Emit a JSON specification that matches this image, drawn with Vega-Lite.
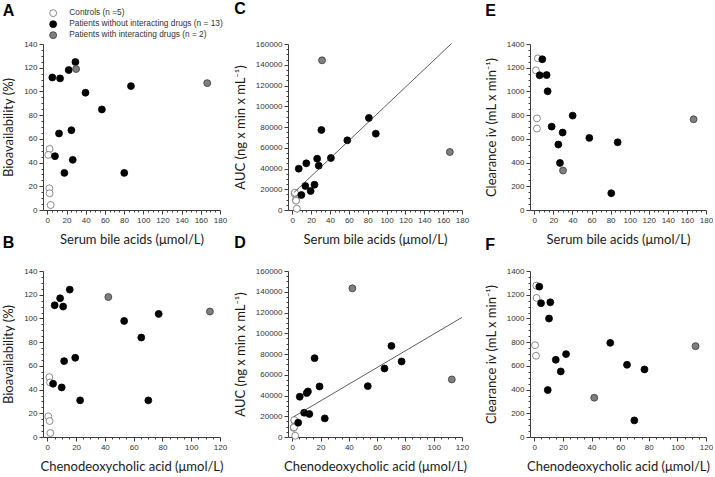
{
  "$schema": "https://vega.github.io/schema/vega-lite/v6.json",
  "padding": {"left": 2, "top": 0, "right": 0, "bottom": 0},
  "datasets": {
    "pts": [
      {"panel": "A", "x": 2.4, "y": 51.5, "g": "c"},
      {"panel": "A", "x": 1.0, "y": 46.5, "g": "c"},
      {"panel": "A", "x": 2.1, "y": 18.3, "g": "c"},
      {"panel": "A", "x": 2.4, "y": 14.1, "g": "c"},
      {"panel": "A", "x": 3.5, "y": 4.2, "g": "c"},
      {"panel": "A", "x": 5.2, "y": 111.8, "g": "p"},
      {"panel": "A", "x": 13.3, "y": 111, "g": "p"},
      {"panel": "A", "x": 22.3, "y": 118, "g": "p"},
      {"panel": "A", "x": 29.3, "y": 124.8, "g": "p"},
      {"panel": "A", "x": 39.8, "y": 98.9, "g": "p"},
      {"panel": "A", "x": 56.9, "y": 84.8, "g": "p"},
      {"panel": "A", "x": 87.2, "y": 104.5, "g": "p"},
      {"panel": "A", "x": 12.2, "y": 64.5, "g": "p"},
      {"panel": "A", "x": 25.1, "y": 67.3, "g": "p"},
      {"panel": "A", "x": 8.0, "y": 45.4, "g": "p"},
      {"panel": "A", "x": 26.5, "y": 42.3, "g": "p"},
      {"panel": "A", "x": 17.8, "y": 31.3, "g": "p"},
      {"panel": "A", "x": 80.2, "y": 31.3, "g": "p"},
      {"panel": "A", "x": 30, "y": 118.9, "g": "i"},
      {"panel": "A", "x": 166.7, "y": 107, "g": "i"},

      {"panel": "B", "x": 1.4, "y": 50.5, "g": "c"},
      {"panel": "B", "x": 1.9, "y": 46, "g": "c"},
      {"panel": "B", "x": 0.7, "y": 17.4, "g": "c"},
      {"panel": "B", "x": 1.6, "y": 13.5, "g": "c"},
      {"panel": "B", "x": 2.1, "y": 3.4, "g": "c"},
      {"panel": "B", "x": 15.6, "y": 124.3, "g": "p"},
      {"panel": "B", "x": 8.9, "y": 117, "g": "p"},
      {"panel": "B", "x": 5.1, "y": 111.1, "g": "p"},
      {"panel": "B", "x": 11, "y": 110, "g": "p"},
      {"panel": "B", "x": 53.4, "y": 97.9, "g": "p"},
      {"panel": "B", "x": 65.3, "y": 83.9, "g": "p"},
      {"panel": "B", "x": 77.4, "y": 103.8, "g": "p"},
      {"panel": "B", "x": 11.7, "y": 64, "g": "p"},
      {"panel": "B", "x": 19.4, "y": 66.8, "g": "p"},
      {"panel": "B", "x": 4, "y": 44.9, "g": "p"},
      {"panel": "B", "x": 10, "y": 41.8, "g": "p"},
      {"panel": "B", "x": 22.8, "y": 30.9, "g": "p"},
      {"panel": "B", "x": 70.2, "y": 30.9, "g": "p"},
      {"panel": "B", "x": 42.4, "y": 118, "g": "i"},
      {"panel": "B", "x": 113, "y": 105.8, "g": "i"},

      {"panel": "C", "x": 2.5, "y": 15800, "g": "c"},
      {"panel": "C", "x": 2.8, "y": 16700, "g": "c"},
      {"panel": "C", "x": 3.8, "y": 9640, "g": "c"},
      {"panel": "C", "x": 4.0, "y": 9000, "g": "c"},
      {"panel": "C", "x": 4.9, "y": 1300, "g": "c"},
      {"panel": "C", "x": 6.9, "y": 39840, "g": "p"},
      {"panel": "C", "x": 14.9, "y": 44980, "g": "p"},
      {"panel": "C", "x": 13.9, "y": 23130, "g": "p"},
      {"panel": "C", "x": 9.7, "y": 14460, "g": "p"},
      {"panel": "C", "x": 19.5, "y": 18310, "g": "p"},
      {"panel": "C", "x": 23.6, "y": 24420, "g": "p"},
      {"panel": "C", "x": 26.4, "y": 49480, "g": "p"},
      {"panel": "C", "x": 28.1, "y": 42730, "g": "p"},
      {"panel": "C", "x": 30.9, "y": 77110, "g": "p"},
      {"panel": "C", "x": 41, "y": 50120, "g": "p"},
      {"panel": "C", "x": 58.4, "y": 67150, "g": "p"},
      {"panel": "C", "x": 81.3, "y": 88680, "g": "p"},
      {"panel": "C", "x": 88.6, "y": 73580, "g": "p"},
      {"panel": "C", "x": 31.6, "y": 144260, "g": "i"},
      {"panel": "C", "x": 167.1, "y": 55900, "g": "i"},

      {"panel": "D", "x": 1.6, "y": 15500, "g": "c"},
      {"panel": "D", "x": 1.4, "y": 16350, "g": "c"},
      {"panel": "D", "x": 1.0, "y": 8800, "g": "c"},
      {"panel": "D", "x": 1.2, "y": 9300, "g": "c"},
      {"panel": "D", "x": 2.1, "y": 1200, "g": "c"},
      {"panel": "D", "x": 4.2, "y": 13800, "g": "p"},
      {"panel": "D", "x": 5.3, "y": 38800, "g": "p"},
      {"panel": "D", "x": 10.2, "y": 42300, "g": "p"},
      {"panel": "D", "x": 11.1, "y": 43900, "g": "p"},
      {"panel": "D", "x": 8.4, "y": 23400, "g": "p"},
      {"panel": "D", "x": 12.1, "y": 22100, "g": "p"},
      {"panel": "D", "x": 15.8, "y": 76000, "g": "p"},
      {"panel": "D", "x": 19.3, "y": 48700, "g": "p"},
      {"panel": "D", "x": 23, "y": 17950, "g": "p"},
      {"panel": "D", "x": 53.4, "y": 49050, "g": "p"},
      {"panel": "D", "x": 65.2, "y": 66000, "g": "p"},
      {"panel": "D", "x": 70.1, "y": 87800, "g": "p"},
      {"panel": "D", "x": 77.3, "y": 72800, "g": "p"},
      {"panel": "D", "x": 42.5, "y": 143300, "g": "i"},
      {"panel": "D", "x": 112.8, "y": 55450, "g": "i"},

      {"panel": "E", "x": 3.8, "y": 1279, "g": "c"},
      {"panel": "E", "x": 1.7, "y": 1178, "g": "c"},
      {"panel": "E", "x": 2.8, "y": 773, "g": "c"},
      {"panel": "E", "x": 2.8, "y": 687, "g": "c"},
      {"panel": "E", "x": 8.4, "y": 1271, "g": "p"},
      {"panel": "E", "x": 5.6, "y": 1136, "g": "p"},
      {"panel": "E", "x": 12.9, "y": 1138, "g": "p"},
      {"panel": "E", "x": 14, "y": 1001, "g": "p"},
      {"panel": "E", "x": 18.2, "y": 703, "g": "p"},
      {"panel": "E", "x": 40.2, "y": 796, "g": "p"},
      {"panel": "E", "x": 29.7, "y": 653, "g": "p"},
      {"panel": "E", "x": 25.2, "y": 552, "g": "p"},
      {"panel": "E", "x": 26.9, "y": 397, "g": "p"},
      {"panel": "E", "x": 57.7, "y": 608, "g": "p"},
      {"panel": "E", "x": 87.4, "y": 571, "g": "p"},
      {"panel": "E", "x": 80.7, "y": 142, "g": "p"},
      {"panel": "E", "x": 30.1, "y": 333, "g": "i"},
      {"panel": "E", "x": 167, "y": 765, "g": "i"},

      {"panel": "F", "x": 1.4, "y": 1277, "g": "c"},
      {"panel": "F", "x": 1.6, "y": 1173, "g": "c"},
      {"panel": "F", "x": 0.5, "y": 774, "g": "c"},
      {"panel": "F", "x": 1.2, "y": 685, "g": "c"},
      {"panel": "F", "x": 3.5, "y": 1268, "g": "p"},
      {"panel": "F", "x": 4.7, "y": 1128, "g": "p"},
      {"panel": "F", "x": 11.2, "y": 1136, "g": "p"},
      {"panel": "F", "x": 10.3, "y": 999, "g": "p"},
      {"panel": "F", "x": 22.2, "y": 699, "g": "p"},
      {"panel": "F", "x": 15, "y": 651, "g": "p"},
      {"panel": "F", "x": 18.5, "y": 553, "g": "p"},
      {"panel": "F", "x": 9.4, "y": 396, "g": "p"},
      {"panel": "F", "x": 53.1, "y": 794, "g": "p"},
      {"panel": "F", "x": 64.8, "y": 609, "g": "p"},
      {"panel": "F", "x": 77, "y": 570, "g": "p"},
      {"panel": "F", "x": 69.9, "y": 140, "g": "p"},
      {"panel": "F", "x": 41.9, "y": 331, "g": "i"},
      {"panel": "F", "x": 112.7, "y": 766, "g": "i"}
    ]
  },
  "data": {"name": "pts"},
  "bounds": "flush",
  "columns": 3,
  "spacing": {"row": 61, "column": 68},
  "resolve": {
    "scale": {"fill": "independent", "stroke": "independent", "x": "independent", "y": "independent"},
    "legend": {"fill": "independent", "stroke": "independent"}
  },
  "concat": [
    {
      "width": 177, "height": 166,
      "title": {"text": "A", "dy": 13.5, "offset": 4},
      "transform": [{"filter": "datum.panel === 'A'"}],
      "layer": [
        {
          "mark": {"type": "point", "filled": true, "size": 48, "strokeWidth": 0.8, "opacity": 1},
          "encoding": {
            "x": {"field": "x", "type": "quantitative", "scale": {"domain": [-4.5, 180], "nice": false, "zero": false},
                  "axis": {"orient": "bottom", "values": [0, 20, 40, 60, 80, 100, 120, 140, 160, 180], "title": "Serum bile acids (μmol/L)"}},
            "y": {"field": "y", "type": "quantitative", "scale": {"domain": [0, 140], "nice": false},
                  "axis": {"orient": "left", "values": [0, 20, 40, 60, 80, 100, 120, 140], "title": "Bioavailability (%)"}},
            "fill": {"field": "g", "type": "nominal", "scale": {"domain": ["c", "p", "i"], "range": ["#ffffff", "#000000", "#7f7f7f"]},
                     "legend": {"orient": "none", "legendX": 6, "legendY": -35, "title": null, "padding": 0, "labelFont": "Liberation Sans", "labelFontSize": 8.3, "labelColor": "#333333", "symbolSize": 48, "symbolStrokeWidth": 0.8, "rowPadding": 0, "labelOffset": 12,
                                "labelExpr": "datum.value === 'c' ? 'Controls (n =5)' : datum.value === 'p' ? 'Patients without interacting drugs (n = 13)' : 'Patients with interacting drugs (n = 2)'"}},
            "stroke": {"field": "g", "type": "nominal", "scale": {"domain": ["c", "p", "i"], "range": ["#6e6e6e", "#000000", "#3a3a3a"]},
                     "legend": {"orient": "none", "legendX": 6, "legendY": -35, "title": null, "padding": 0, "labelFont": "Liberation Sans", "labelFontSize": 8.3, "labelColor": "#333333", "symbolSize": 48, "symbolStrokeWidth": 0.8, "rowPadding": 0, "labelOffset": 12,
                                "labelExpr": "datum.value === 'c' ? 'Controls (n =5)' : datum.value === 'p' ? 'Patients without interacting drugs (n = 13)' : 'Patients with interacting drugs (n = 2)'"}}
          }
        },
        {
          "mark": {"type": "point", "opacity": 0},
          "encoding": {
            "x": {"field": "x", "type": "quantitative", "axis": {"orient": "bottom", "values": [5,10,15,25,30,35,45,50,55,65,70,75,85,90,95,105,110,115,125,130,135,145,150,155,165,170,175], "labels": false, "domain": false, "tickSize": 2, "title": null}},
            "y": {"field": "y", "type": "quantitative", "axis": {"orient": "left", "values": [5,10,15,25,30,35,45,50,55,65,70,75,85,90,95,105,110,115,125,130,135], "labels": false, "domain": false, "tickSize": 2, "title": null}}
          }
        }
      ],
      "resolve": {"axis": {"x": "independent", "y": "independent"}}
    },
    {
      "width": 174, "height": 166,
      "title": {"text": "C", "offset": 23.5},
      "transform": [{"filter": "datum.panel === 'C'"}],
      "layer": [
        {
          "mark": {"type": "point", "filled": true, "size": 48, "strokeWidth": 0.8, "opacity": 1},
          "encoding": {
            "x": {"field": "x", "type": "quantitative", "scale": {"domain": [-4.5, 180], "nice": false, "zero": false},
                  "axis": {"orient": "bottom", "values": [0, 20, 40, 60, 80, 100, 120, 140, 160, 180], "title": "Serum bile acids (μmol/L)"}},
            "y": {"field": "y", "type": "quantitative", "scale": {"domain": [0, 160000], "nice": false},
                  "axis": {"orient": "left", "format": "d", "values": [0, 20000, 40000, 60000, 80000, 100000, 120000, 140000, 160000], "title": "AUC (ng x min x mL⁻¹)"}},
            "fill": {"field": "g", "type": "nominal", "scale": {"domain": ["c", "p", "i"], "range": ["#ffffff", "#000000", "#7f7f7f"]}, "legend": null},
            "stroke": {"field": "g", "type": "nominal", "scale": {"domain": ["c", "p", "i"], "range": ["#6e6e6e", "#000000", "#3a3a3a"]}, "legend": null}
          }
        },
        {
          "mark": {"type": "point", "opacity": 0},
          "encoding": {
            "x": {"field": "x", "type": "quantitative", "axis": {"orient": "bottom", "values": [5,10,15,25,30,35,45,50,55,65,70,75,85,90,95,105,110,115,125,130,135,145,150,155,165,170,175], "labels": false, "domain": false, "tickSize": 2, "title": null}},
            "y": {"field": "y", "type": "quantitative", "axis": {"orient": "left", "values": [5000,10000,15000,25000,30000,35000,45000,50000,55000,65000,70000,75000,85000,90000,95000,105000,110000,115000,125000,130000,135000,145000,150000,155000], "labels": false, "domain": false, "tickSize": 2, "title": null}}
          }
        },
        {
          "data": {"values": [{"x": 2, "y": 17000}, {"x": 169, "y": 160500}]},
          "mark": {"type": "line", "color": "#333333", "strokeWidth": 0.8},
          "encoding": {
            "x": {"field": "x", "type": "quantitative", "axis": null},
            "y": {"field": "y", "type": "quantitative", "axis": null}
          }
        }
      ],
      "resolve": {"axis": {"x": "independent", "y": "independent"}}
    },
    {
      "width": 176, "height": 166,
      "title": {"text": "E", "offset": 21.5},
      "transform": [{"filter": "datum.panel === 'E'"}],
      "layer": [
        {
          "mark": {"type": "point", "filled": true, "size": 48, "strokeWidth": 0.8, "opacity": 1},
          "encoding": {
            "x": {"field": "x", "type": "quantitative", "scale": {"domain": [-4.5, 180], "nice": false, "zero": false},
                  "axis": {"orient": "bottom", "values": [0, 20, 40, 60, 80, 100, 120, 140, 160, 180], "title": "Serum bile acids (μmol/L)"}},
            "y": {"field": "y", "type": "quantitative", "scale": {"domain": [0, 1400], "nice": false},
                  "axis": {"orient": "left", "format": "d", "values": [0, 200, 400, 600, 800, 1000, 1200, 1400], "title": "Clearance iv (mL x min⁻¹)"}},
            "fill": {"field": "g", "type": "nominal", "scale": {"domain": ["c", "p", "i"], "range": ["#ffffff", "#000000", "#7f7f7f"]}, "legend": null},
            "stroke": {"field": "g", "type": "nominal", "scale": {"domain": ["c", "p", "i"], "range": ["#6e6e6e", "#000000", "#3a3a3a"]}, "legend": null}
          }
        },
        {
          "mark": {"type": "point", "opacity": 0},
          "encoding": {
            "x": {"field": "x", "type": "quantitative", "axis": {"orient": "bottom", "values": [5,10,15,25,30,35,45,50,55,65,70,75,85,90,95,105,110,115,125,130,135,145,150,155,165,170,175], "labels": false, "domain": false, "tickSize": 2, "title": null}},
            "y": {"field": "y", "type": "quantitative", "axis": {"orient": "left", "values": [50,100,150,250,300,350,450,500,550,650,700,750,850,900,950,1050,1100,1150,1250,1300,1350], "labels": false, "domain": false, "tickSize": 2, "title": null}}
          }
        }
      ],
      "resolve": {"axis": {"x": "independent", "y": "independent"}}
    },
    {
      "width": 177, "height": 166,
      "title": {"text": "B", "offset": 16},
      "transform": [{"filter": "datum.panel === 'B'"}],
      "layer": [
        {
          "mark": {"type": "point", "filled": true, "size": 48, "strokeWidth": 0.8, "opacity": 1},
          "encoding": {
            "x": {"field": "x", "type": "quantitative", "scale": {"domain": [-3, 120], "nice": false, "zero": false},
                  "axis": {"orient": "bottom", "values": [0, 20, 40, 60, 80, 100, 120], "title": "Chenodeoxycholic acid (μmol/L)"}},
            "y": {"field": "y", "type": "quantitative", "scale": {"domain": [0, 140], "nice": false},
                  "axis": {"orient": "left", "values": [0, 20, 40, 60, 80, 100, 120, 140], "title": "Bioavailability (%)"}},
            "fill": {"field": "g", "type": "nominal", "scale": {"domain": ["c", "p", "i"], "range": ["#ffffff", "#000000", "#7f7f7f"]}, "legend": null},
            "stroke": {"field": "g", "type": "nominal", "scale": {"domain": ["c", "p", "i"], "range": ["#6e6e6e", "#000000", "#3a3a3a"]}, "legend": null}
          }
        },
        {
          "mark": {"type": "point", "opacity": 0},
          "encoding": {
            "x": {"field": "x", "type": "quantitative", "axis": {"orient": "bottom", "values": [5,10,15,25,30,35,45,50,55,65,70,75,85,90,95,105,110,115], "labels": false, "domain": false, "tickSize": 2, "title": null}},
            "y": {"field": "y", "type": "quantitative", "axis": {"orient": "left", "values": [5,10,15,25,30,35,45,50,55,65,70,75,85,90,95,105,110,115,125,130,135], "labels": false, "domain": false, "tickSize": 2, "title": null}}
          }
        }
      ],
      "resolve": {"axis": {"x": "independent", "y": "independent"}}
    },
    {
      "width": 174, "height": 166,
      "title": {"text": "D", "offset": 16},
      "transform": [{"filter": "datum.panel === 'D'"}],
      "layer": [
        {
          "mark": {"type": "point", "filled": true, "size": 48, "strokeWidth": 0.8, "opacity": 1},
          "encoding": {
            "x": {"field": "x", "type": "quantitative", "scale": {"domain": [-3, 120], "nice": false, "zero": false},
                  "axis": {"orient": "bottom", "values": [0, 20, 40, 60, 80, 100, 120], "title": "Chenodeoxycholic acid (μmol/L)"}},
            "y": {"field": "y", "type": "quantitative", "scale": {"domain": [0, 160000], "nice": false},
                  "axis": {"orient": "left", "format": "d", "values": [0, 20000, 40000, 60000, 80000, 100000, 120000, 140000, 160000], "title": "AUC (ng x min x mL⁻¹)"}},
            "fill": {"field": "g", "type": "nominal", "scale": {"domain": ["c", "p", "i"], "range": ["#ffffff", "#000000", "#7f7f7f"]}, "legend": null},
            "stroke": {"field": "g", "type": "nominal", "scale": {"domain": ["c", "p", "i"], "range": ["#6e6e6e", "#000000", "#3a3a3a"]}, "legend": null}
          }
        },
        {
          "mark": {"type": "point", "opacity": 0},
          "encoding": {
            "x": {"field": "x", "type": "quantitative", "axis": {"orient": "bottom", "values": [5,10,15,25,30,35,45,50,55,65,70,75,85,90,95,105,110,115], "labels": false, "domain": false, "tickSize": 2, "title": null}},
            "y": {"field": "y", "type": "quantitative", "axis": {"orient": "left", "values": [5000,10000,15000,25000,30000,35000,45000,50000,55000,65000,70000,75000,85000,90000,95000,105000,110000,115000,125000,130000,135000,145000,150000,155000], "labels": false, "domain": false, "tickSize": 2, "title": null}}
          }
        },
        {
          "data": {"values": [{"x": 1, "y": 19500}, {"x": 120, "y": 115300}]},
          "mark": {"type": "line", "color": "#333333", "strokeWidth": 0.8},
          "encoding": {
            "x": {"field": "x", "type": "quantitative", "axis": null},
            "y": {"field": "y", "type": "quantitative", "axis": null}
          }
        }
      ],
      "resolve": {"axis": {"x": "independent", "y": "independent"}}
    },
    {
      "width": 176, "height": 166,
      "title": {"text": "F", "offset": 14},
      "transform": [{"filter": "datum.panel === 'F'"}],
      "layer": [
        {
          "mark": {"type": "point", "filled": true, "size": 48, "strokeWidth": 0.8, "opacity": 1},
          "encoding": {
            "x": {"field": "x", "type": "quantitative", "scale": {"domain": [-3, 120], "nice": false, "zero": false},
                  "axis": {"orient": "bottom", "values": [0, 20, 40, 60, 80, 100, 120], "title": "Chenodeoxycholic acid (μmol/L)"}},
            "y": {"field": "y", "type": "quantitative", "scale": {"domain": [0, 1400], "nice": false},
                  "axis": {"orient": "left", "format": "d", "values": [0, 200, 400, 600, 800, 1000, 1200, 1400], "title": "Clearance iv (mL x min⁻¹)"}},
            "fill": {"field": "g", "type": "nominal", "scale": {"domain": ["c", "p", "i"], "range": ["#ffffff", "#000000", "#7f7f7f"]}, "legend": null},
            "stroke": {"field": "g", "type": "nominal", "scale": {"domain": ["c", "p", "i"], "range": ["#6e6e6e", "#000000", "#3a3a3a"]}, "legend": null}
          }
        },
        {
          "mark": {"type": "point", "opacity": 0},
          "encoding": {
            "x": {"field": "x", "type": "quantitative", "axis": {"orient": "bottom", "values": [5,10,15,25,30,35,45,50,55,65,70,75,85,90,95,105,110,115], "labels": false, "domain": false, "tickSize": 2, "title": null}},
            "y": {"field": "y", "type": "quantitative", "axis": {"orient": "left", "values": [50,100,150,250,300,350,450,500,550,650,700,750,850,900,950,1050,1100,1150,1250,1300,1350], "labels": false, "domain": false, "tickSize": 2, "title": null}}
          }
        }
      ],
      "resolve": {"axis": {"x": "independent", "y": "independent"}}
    }
  ],
  "config": {
    "view": {"stroke": null},
    "font": "Liberation Sans",
    "axis": {"grid": false, "domainColor": "#3c3c3c", "tickColor": "#3c3c3c", "domainWidth": 1, "tickWidth": 1, "tickSize": 4,
             "labelFont": "Liberation Sans", "labelFontSize": 8, "labelColor": "#333333", "labelPadding": 2, "labelFlush": false, "labelOverlap": false,
             "titleFont": "Lato", "titleFontSize": 13, "titleFontWeight": "normal", "titleColor": "#1a1a1a"},
    "axisX": {"titlePadding": 9},
    "axisY": {"titlePadding": 8},
    "title": {"anchor": "start", "frame": "bounds", "font": "Liberation Sans", "fontSize": 16, "fontWeight": "bold", "color": "#000000"}
  }
}
